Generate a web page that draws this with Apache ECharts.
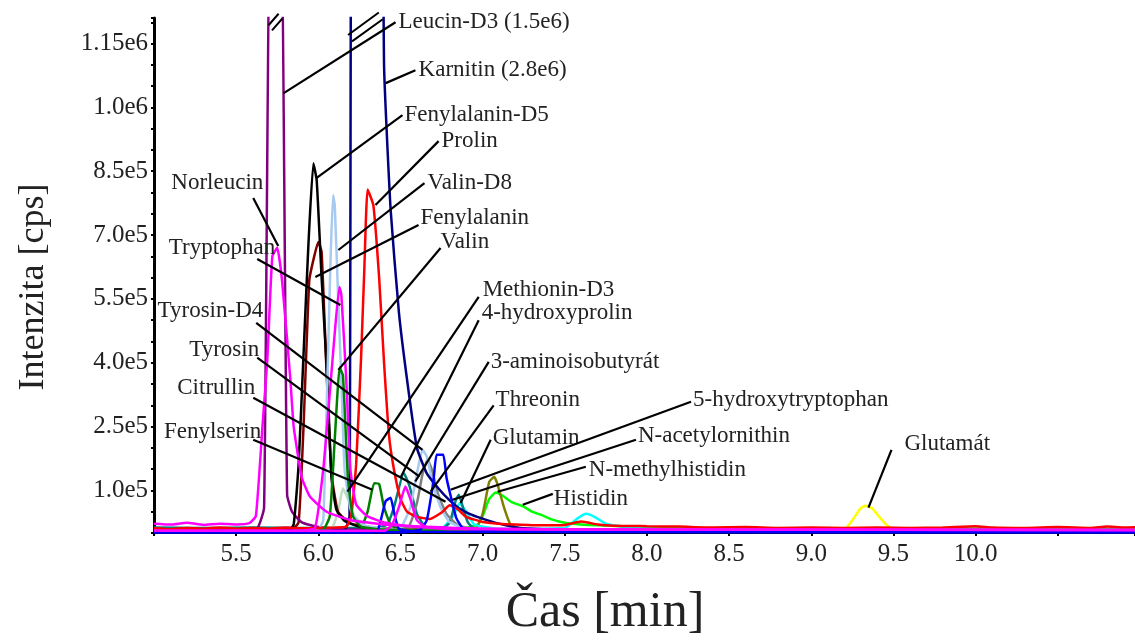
<!DOCTYPE html>
<html><head><meta charset="utf-8">
<script src="https://cdn.jsdelivr.net/npm/echarts@6/dist/echarts.min.js"></script>
<style>html,body{margin:0;padding:0;background:#fff}#c{width:1135px;height:641px}</style>
</head><body><div id="c"></div>
<script>
// ---- tick labels ----
const xTickValues = [5.5,6.0,6.5,7.0,7.5,8.0,8.5,9.0,9.5,10.0];
const xTickLabels = ['5.5','6.0','6.5','7.0','7.5','8.0','8.5','9.0','9.5','10.0'];
const yTickValues = [100000,250000,400000,550000,700000,850000,1000000,1150000];
const yTickLabels = ['1.0e5','2.5e5','4.0e5','5.5e5','7.0e5','8.5e5','1.0e6','1.15e6'];

// ---- traces: [time (min), intensity (cps)] ----
const leucinD3 = [[5.0,9000],[5.3,8500],[5.55,9500],[5.63,12000],[5.67,60000],[5.71,1500000],[5.77,1500000],[5.81,90000],[5.84,50000],[5.9,25000],[6.0,14000],[6.15,9000],[6.5,6000],[7.5,4000],[11.0,3500]];
const karnitin = [[5.0,4000],[5.5,4000],[6.0,5000],[6.16,8000],[6.19,40000],[6.22,2800000],[6.36,2800000],[6.40,1100000],[6.44,760000],[6.49,520000],[6.54,360000],[6.60,200000],[6.66,140000],[6.73,105000],[6.79,80000],[6.85,60000],[6.92,45000],[6.99,35000],[7.1,22000],[7.23,12000],[7.5,8000],[8.0,6000],[9.0,5000],[11.0,5000]];
const fenylalaninD5 = [[5.0,3000],[5.6,3000],[5.82,5000],[5.85,20000],[5.88,160000],[5.91,420000],[5.94,680000],[5.97,869000],[5.99,829000],[6.02,600000],[6.055,360000],[6.08,130000],[6.11,55000],[6.16,28000],[6.25,15000],[6.4,9000],[6.7,5000],[7.5,3500],[11.0,3000]];
const prolin = [[5.0,11000],[5.1,9000],[5.2,12000],[5.3,10000],[5.4,13000],[5.5,10000],[5.6,12000],[5.7,10000],[5.8,13000],[5.9,11000],[6.0,12000],[6.1,13000],[6.17,15000],[6.20,40000],[6.23,160000],[6.26,410000],[6.28,620000],[6.30,807000],[6.335,770000],[6.37,600000],[6.40,400000],[6.43,230000],[6.46,150000],[6.50,80000],[6.54,50000],[6.60,38000],[6.68,33000],[6.75,48000],[6.80,65000],[6.85,55000],[6.9,38000],[7.0,26000],[7.1,22000],[7.2,20000],[7.35,18000],[7.5,19000],[7.6,27000],[7.7,20000],[7.8,17000],[8.0,16000],[8.2,15000],[8.4,13000],[8.6,14000],[8.8,12000],[9.0,13000],[9.2,12000],[9.4,13000],[9.6,12000],[9.8,13000],[10.0,16000],[10.1,13000],[10.3,12000],[10.5,14000],[10.7,12000],[10.8,15000],[10.9,13000],[11.0,14000]];
const valinD8 = [[5.0,3000],[5.9,4000],[6.0,8000],[6.03,30000],[6.055,360000],[6.075,650000],[6.09,794000],[6.10,770000],[6.12,560000],[6.14,360000],[6.16,150000],[6.2,50000],[6.26,20000],[6.4,10000],[6.7,6000],[8.0,4000],[11.0,4000]];
const fenylalanin = [[5.0,9000],[5.3,8500],[5.6,9000],[5.84,9000],[5.88,25000],[5.91,250000],[5.945,594000],[5.975,650000],[6.0,684000],[6.02,660000],[6.05,380000],[6.08,140000],[6.12,50000],[6.2,22000],[6.35,12000],[6.6,8000],[7.0,6000],[11.0,5000]];
const valin = [[5.0,4000],[5.9,4000],[6.03,8000],[6.07,40000],[6.10,220000],[6.13,388000],[6.15,370000],[6.18,130000],[6.21,40000],[6.26,15000],[6.4,8000],[7.0,5000],[11.0,4000]];
const norleucin = [[5.0,22000],[5.1,20000],[5.2,24000],[5.3,19000],[5.4,22000],[5.5,20000],[5.58,23000],[5.62,40000],[5.66,250000],[5.69,410000],[5.72,650000],[5.75,670000],[5.78,590000],[5.83,360000],[5.85,250000],[5.9,130000],[5.95,85000],[6.05,50000],[6.2,30000],[6.4,20000],[6.7,14000],[7.0,10000],[8.0,8000],[11.0,7000]];
const tryptophan = [[5.0,5000],[5.9,6000],[5.98,12000],[6.03,150000],[6.07,330000],[6.10,470000],[6.128,578000],[6.14,560000],[6.17,360000],[6.195,150000],[6.23,67000],[6.30,39000],[6.4,25000],[6.55,16000],[6.8,11000],[7.5,8000],[11.0,7000]];
const methioninD3 = [[5.0,3000],[6.0,4000],[6.08,10000],[6.12,50000],[6.15,105000],[6.18,80000],[6.22,40000],[6.28,18000],[6.4,8000],[11.0,4000]];
const tyrosinD4 = [[5.0,3000],[6.4,4000],[6.5,12000],[6.56,60000],[6.60,140000],[6.634,195000],[6.66,180000],[6.7,110000],[6.75,55000],[6.8,25000],[6.9,10000],[7.2,5000],[11.0,4000]];
const tyrosin = [[5.0,3000],[6.45,4000],[6.55,15000],[6.6,70000],[6.635,140000],[6.665,172000],[6.69,150000],[6.73,90000],[6.78,45000],[6.85,18000],[7.0,7000],[11.0,4000]];
const citrullin = [[5.0,3000],[6.6,4000],[6.75,10000],[6.82,40000],[6.86,70000],[6.9,50000],[6.95,20000],[7.1,10000],[7.5,12000],[7.58,35000],[7.63,45000],[7.68,38000],[7.75,22000],[7.9,12000],[8.5,6000],[11.0,5000]];
const fenylserin = [[5.0,4000],[6.2,5000],[6.26,12000],[6.3,50000],[6.34,117000],[6.37,115000],[6.40,60000],[6.44,20000],[6.5,8000],[7.0,5000],[11.0,4000]];
const hydroxyprolin = [[5.0,13000],[5.3,12000],[5.6,13000],[5.9,12000],[6.2,12000],[6.35,12000],[6.42,20000],[6.46,60000],[6.52,141000],[6.555,110000],[6.6,45000],[6.65,15000],[6.75,8000],[7.0,6000],[11.0,5000]];
const aminoisobutyrat = [[5.0,5000],[6.4,5000],[6.45,20000],[6.49,60000],[6.53,109000],[6.56,80000],[6.6,30000],[6.65,15000],[6.75,10000],[7.0,9000],[8.0,8000],[11.0,7000]];
const threonin = [[5.0,2000],[6.3,2000],[6.36,5000],[6.38,30000],[6.41,75000],[6.44,83000],[6.46,50000],[6.49,10000],[6.6,3000],[11.0,2000]];
const glutamin = [[5.0,3000],[6.7,4000],[6.75,8000],[6.8,25000],[6.835,75000],[6.855,90000],[6.88,60000],[6.91,25000],[6.95,10000],[7.2,5000],[11.0,4000]];
const hydroxytryptophan = [[5.0,1500],[6.5,1500],[6.62,8000],[6.66,30000],[6.70,120000],[6.72,184000],[6.76,184000],[6.78,130000],[6.81,80000],[6.84,35000],[6.88,12000],[7.0,5000],[7.5,2500],[11.0,1500]];
const nMethylhistidin = [[5.0,3000],[6.9,4000],[6.96,10000],[7.0,45000],[7.04,120000],[7.07,132000],[7.09,115000],[7.13,60000],[7.17,20000],[7.25,8000],[7.5,5000],[11.0,4000]];
const histidin = [[5.0,5000],[6.9,12000],[6.97,20000],[7.0,40000],[7.04,80000],[7.08,95000],[7.12,88000],[7.18,72000],[7.25,62000],[7.3,50000],[7.36,42000],[7.42,32000],[7.5,24000],[7.6,20000],[7.7,18000],[7.85,16000],[8.0,14000],[8.3,12000],[9.0,11000],[11.0,10000]];
const glutamat = [[5.0,5000],[9.0,6000],[9.2,8000],[9.25,30000],[9.3,58000],[9.33,64000],[9.37,58000],[9.42,35000],[9.47,15000],[9.52,8000],[10.0,6000],[11.0,5000]];

// ---- series definitions (name, data, colour), drawn in this order ----
const traces = [
  ['Glutamát', glutamat, '#ffff00'],
  ['Histidin', histidin, '#00ff00'],
  ['N-methylhistidin', nMethylhistidin, '#808000'],
  ['Citrullin', citrullin, '#00ffff'],
  ['Glutamin', glutamin, '#008080'],
  ['4-hydroxyprolin', hydroxyprolin, '#008080'],
  ['Tyrosin', tyrosin, '#808080'],
  ['Tyrosin-D4', tyrosinD4, '#a6caf0'],
  ['Fenylserin', fenylserin, '#008000'],
  ['Methionin-D3', methioninD3, '#c0dcc0'],
  ['Fenylalanin', fenylalanin, '#800000'],
  ['Leucin-D3', leucinD3, '#800080'],
  ['Fenylalanin-D5', fenylalaninD5, '#000000'],
  ['Karnitin', karnitin, '#000080'],
  ['Valin-D8', valinD8, '#a6caf0'],
  ['Prolin', prolin, '#ff0000'],
  ['Valin', valin, '#008000'],
  ['5-hydroxytryptophan', hydroxytryptophan, '#0000ff'],
  ['Threonin', threonin, '#0000ff'],
  ['3-aminoisobutyrát', aminoisobutyrat, '#ff00ff'],
  ['Tryptophan', tryptophan, '#ff00ff'],
  ['Norleucin', norleucin, '#ff00ff']
];

// ---- annotation layout (data coordinates) ----
const annotations = [
  {text:'Leucin-D3 (1.5e6)', at:[6.488,1200000], align:'left', from:[6.470,1200000], to:[5.787,1033000]},
  {text:'Karnitin (2.8e6)', at:[6.610,1087000], align:'left', from:[6.591,1087000], to:[6.410,1057000]},
  {text:'Fenylalanin-D5', at:[6.524,981700], align:'left', from:[6.512,981700], to:[5.988,834000]},
  {text:'Prolin', at:[6.750,920700], align:'left', from:[6.732,920700], to:[6.348,770500]},
  {text:'Valin-D8', at:[6.665,822100], align:'left', from:[6.646,822100], to:[6.122,664900]},
  {text:'Fenylalanin', at:[6.622,740000], align:'left', from:[6.610,723600], to:[5.982,601500]},
  {text:'Valin', at:[6.744,683700], align:'left', from:[6.744,669600], to:[6.122,383300]},
  {text:'Norleucin', at:[5.665,822100], align:'right', from:[5.604,787000], to:[5.756,674300]},
  {text:'Tryptophan', at:[5.738,669600], align:'right', from:[5.628,643800], to:[6.134,535800]},
  {text:'Tyrosin-D4', at:[5.665,521700], align:'right', from:[5.622,493600], to:[6.634,195500]},
  {text:'Tyrosin', at:[5.640,430000], align:'right', from:[5.628,411900], to:[6.616,132200]},
  {text:'Citrullin', at:[5.616,341000], align:'right', from:[5.604,317600], to:[6.774,73500]},
  {text:'Fenylserin', at:[5.652,237800], align:'right', from:[5.604,219000], to:[6.329,101700]},
  {text:'Methionin-D3', at:[7.000,571000], align:'left', from:[6.976,554600], to:[6.177,97000]},
  {text:'4-hydroxyprolin', at:[6.994,517000], align:'left', from:[6.976,500000], to:[6.500,130000]},
  {text:'3-aminoisobutyrát', at:[7.049,402000], align:'left', from:[7.037,402000], to:[6.590,121000]},
  {text:'Threonin', at:[7.079,312900], align:'left', from:[7.067,300000], to:[6.683,97000]},
  {text:'Glutamin', at:[7.061,223700], align:'left', from:[7.049,219000], to:[6.866,70400]},
  {text:'5-hydroxytryptophan', at:[8.280,312900], align:'left', from:[8.268,308200], to:[6.805,101700]},
  {text:'N-acetylornithin', at:[7.945,228400], align:'left', from:[7.933,219000], to:[6.817,78200]},
  {text:'N-methylhistidin', at:[7.646,148500], align:'left', from:[7.628,155600], to:[7.091,97000]},
  {text:'Histidin', at:[7.433,80500], align:'left', from:[7.427,92000], to:[7.244,66460]},
  {text:'Glutamát', at:[9.567,209600], align:'left', from:[9.488,195500], to:[9.348,59400]}
];
// axis-break strokes on the clipped peaks (data coordinates)
const breakMarks = [
  [5.697,1193000,5.758,1220000],[5.718,1181000,5.782,1209000],
  [6.181,1170000,6.368,1223000],[6.205,1155000,6.392,1207000]
];

const FONT = '"Liberation Serif", "Times New Roman", serif';
const chart = echarts.init(document.getElementById('c'));
const series = traces.map(t => ({
  name: t[0], type: 'line', data: t[1], showSymbol: false, symbol: 'none',
  smooth: 0.15, lineStyle: {color: t[2], width: 2.5}, itemStyle: {color: t[2]},
  clip: true, silent: true
}));
series.push({
  type: 'custom', name: 'breaks', clip: false, silent: true, z: 5,
  data: breakMarks.map(b => [b[0], b[1], b[2], b[3]]),
  encode: {x: 0, y: 1},
  renderItem: function (params, api) {
    const p0 = api.coord([api.value(0), api.value(1)]);
    const p1 = api.coord([api.value(2), api.value(3)]);
    return {type: 'line', shape: {x1: p0[0], y1: p0[1], x2: p1[0], y2: p1[1]},
      style: {stroke: '#000', lineWidth: 2}};
  }
});
series.push({
  type: 'custom', name: 'labels', clip: false, silent: true, z: 6,
  data: annotations.map(a => a.to),
  encode: {x: 0, y: 1},
  renderItem: function (params, api) {
    const a = annotations[params.dataIndex];
    const p0 = api.coord(a.from), p1 = api.coord(a.to), pt = api.coord(a.at);
    return {type: 'group', children: [
      {type: 'line', shape: {x1: p0[0], y1: p0[1], x2: p1[0], y2: p1[1]}, style: {stroke: '#000', lineWidth: 2.2}},
      {type: 'text', x: pt[0], y: pt[1], style: {text: a.text, fill: '#222', font: '23px ' + FONT, align: a.align, verticalAlign: 'middle'}}
    ]};
  }
});

chart.setOption({
  animation: false,
  backgroundColor: '#fff',
  grid: {left: 154, right: 0, top: 18, bottom: 108, containLabel: false, outerBoundsMode: 'none'},
  xAxis: {
    type: 'value', min: 5.0, max: 10.97, interval: 0.5,
    axisLine: {show: true, onZero: false, lineStyle: {color: '#000', width: 2}},
    axisTick: {show: true, length: 3, lineStyle: {color: '#000', width: 2}},
    splitLine: {show: false},
    axisLabel: {
      margin: 9, color: '#222', fontFamily: FONT, fontSize: 25,
      formatter: v => { const i = xTickValues.findIndex(x => Math.abs(x - v) < 1e-6); return i >= 0 ? xTickLabels[i] : ''; }
    }
  },
  yAxis: {
    type: 'value', min: 0, max: 1210000, interval: 50000,
    axisLine: {show: true, lineStyle: {color: '#000', width: 3}},
    axisTick: {show: true, length: 3, lineStyle: {color: '#000', width: 2}},
    splitLine: {show: false},
    axisLabel: {
      margin: 6, color: '#222', fontFamily: FONT, fontSize: 25,
      formatter: v => { const i = yTickValues.findIndex(x => Math.abs(x - v) < 1); return i >= 0 ? yTickLabels[i] : ''; }
    }
  },
  graphic: [
    {type: 'text', x: 34, y: 287, rotation: Math.PI / 2,
      style: {text: 'Intenzita [cps]', font: '36px ' + FONT, fill: '#222', align: 'center', verticalAlign: 'middle'}},
    {type: 'text', x: 605, y: 613,
      style: {text: 'Čas [min]', font: '50px ' + FONT, fill: '#222', align: 'center', verticalAlign: 'middle'}}
  ],
  series: series
});
</script></body></html>
